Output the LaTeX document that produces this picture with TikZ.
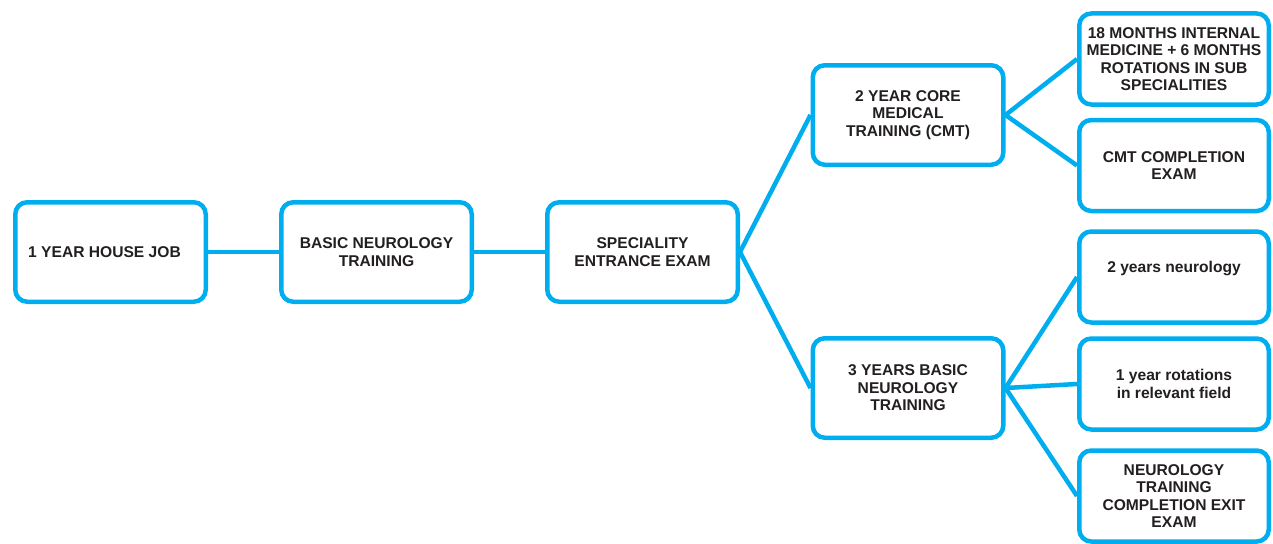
\documentclass[tikz,border=0pt]{standalone}
\usepackage{fontspec}
\setmainfont{Liberation Sans}
\definecolor{boxblue}{HTML}{00AEEF}
\definecolor{txt}{HTML}{231F20}
\begin{document}
\begin{tikzpicture}[x=1pt,y=-1pt,
  box/.style={draw=boxblue, line width=4.5pt, rounded corners=12pt, fill=white,
    minimum width=190.5pt, minimum height=99.5pt, align=center, inner sep=2pt,
    text=txt, font=\fontsize{15.6}{17.5}\selectfont\bfseries},
  rbox/.style={box, minimum width=189.5pt, minimum height=91pt},
  link/.style={draw=boxblue, line width=4.5pt}]
\useasboundingbox (0,0) rectangle (1273,543);
\node[box] (b1) at (110.5,252) {1 YEAR HOUSE JOB\hspace*{12pt}};
\node[box] (b2) at (376.5,252) {BASIC NEUROLOGY\\TRAINING};
\node[box] (b3) at (642.5,252) {SPECIALITY\\ENTRANCE EXAM};
\node[box] (b4) at (908,115) {2 YEAR CORE\\MEDICAL\\TRAINING (CMT)};
\node[box] (b5) at (908,388) {3 YEARS BASIC\\NEUROLOGY\\TRAINING};
\node[rbox] (b6) at (1174,59) {18 MONTHS INTERNAL\\MEDICINE + 6 MONTHS\\ROTATIONS IN SUB\\SPECIALITIES};
\node[rbox] (b7) at (1174,165.5) {CMT COMPLETION\\EXAM};
\node[rbox] (b8) at (1174,277) {\raisebox{9pt}[\height][\depth]{2 years neurology}};
\node[rbox] (b9) at (1174,384) {1 year rotations\\in relevant field};
\node[rbox] (b10) at (1174,496) {NEUROLOGY\\TRAINING\\COMPLETION EXIT\\EXAM};
\draw[link] (b1.east) -- (b2.west);
\draw[link] (b2.east) -- (b3.west);
\draw[link] (b3.east) -- (b4.west);
\draw[link] (b3.east) -- (b5.west);
\draw[link] (b4.east) -- (b6.west);
\draw[link] (b4.east) -- (b7.west);
\draw[link] (b5.east) -- (b8.west);
\draw[link] (b5.east) -- (b9.west);
\draw[link] (b5.east) -- (b10.west);
\end{tikzpicture}
\end{document}
